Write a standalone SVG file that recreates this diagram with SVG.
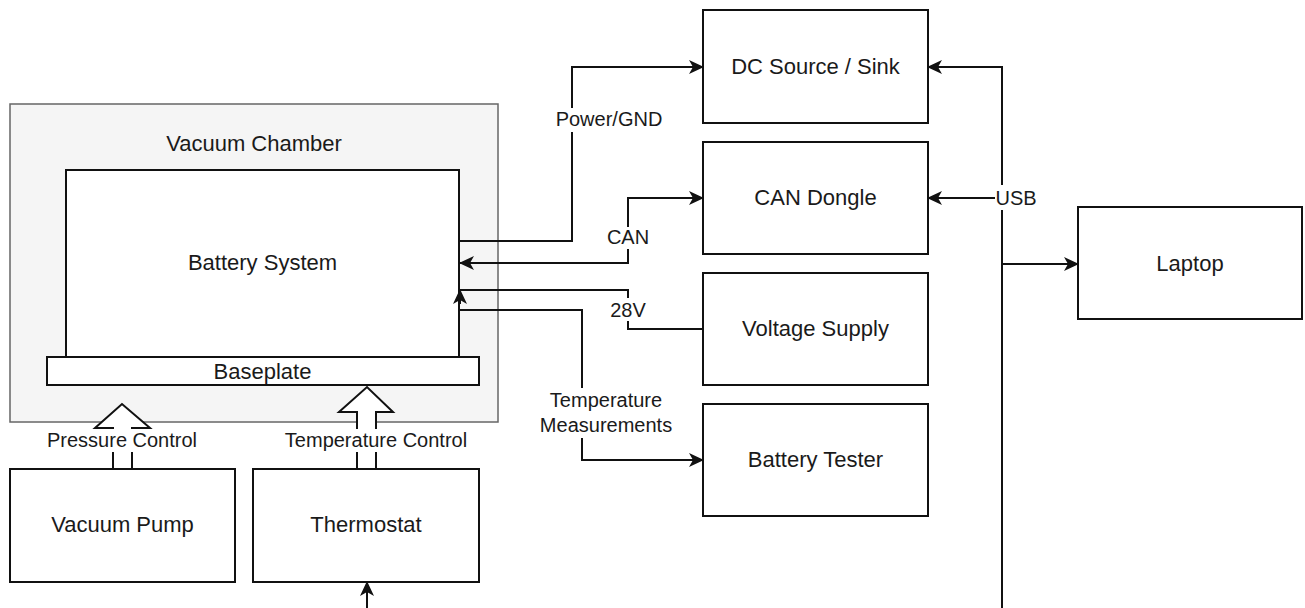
<svg xmlns="http://www.w3.org/2000/svg" width="1305" height="608" viewBox="0 0 1305 608">
<style>
.box{fill:#fff;stroke:#111;stroke-width:2}
.ch{fill:#f5f5f5;stroke:#666;stroke-width:1.5}
.t{font-family:"Liberation Sans",Arial,sans-serif;font-size:22px;fill:#1a1a1a;text-anchor:middle;dominant-baseline:central}
.l{font-family:"Liberation Sans",Arial,sans-serif;font-size:20px;fill:#1a1a1a;text-anchor:middle;dominant-baseline:central}
.e{fill:none;stroke:#111;stroke-width:2}
.bg{fill:#fff;stroke:none}
.blk{fill:#fff;stroke:#111;stroke-width:2;stroke-linejoin:miter}
</style>
<defs>
<marker id="arr" viewBox="0 0 15 14" refX="14" refY="7" markerWidth="15" markerHeight="14" markerUnits="userSpaceOnUse" orient="auto-start-reverse">
<path d="M0,0 L15,7 L0,14 L4,7 z" fill="#111"/>
</marker>
</defs>
<rect width="1305" height="608" fill="#fff"/>
<g id="vacuum-chamber">
<rect class="ch" x="10" y="104" width="488" height="318"/>
<text class="t" x="254" y="143">Vacuum Chamber</text>
</g>
<g id="battery-system">
<rect class="box" x="66" y="170" width="393" height="187"/>
<text class="t" x="262.5" y="262">Battery System</text>
</g>
<g id="baseplate">
<rect class="box" x="47" y="357" width="432" height="28"/>
<text class="t" x="262.5" y="371">Baseplate</text>
</g>
<g id="dc-source">
<rect class="box" x="703" y="10" width="225" height="113"/>
<text class="t" x="815.5" y="66">DC Source / Sink</text>
</g>
<g id="can-dongle">
<rect class="box" x="703" y="142" width="225" height="112"/>
<text class="t" x="815.5" y="197">CAN Dongle</text>
</g>
<g id="voltage-supply">
<rect class="box" x="703" y="273" width="225" height="112"/>
<text class="t" x="815.5" y="328">Voltage Supply</text>
</g>
<g id="battery-tester">
<rect class="box" x="703" y="404" width="225" height="112"/>
<text class="t" x="815.5" y="459">Battery Tester</text>
</g>
<g id="laptop">
<rect class="box" x="1078" y="207" width="224" height="112"/>
<text class="t" x="1190" y="263">Laptop</text>
</g>
<g id="vacuum-pump">
<rect class="box" x="10" y="469" width="225" height="113"/>
<text class="t" x="122.5" y="524">Vacuum Pump</text>
</g>
<g id="thermostat">
<rect class="box" x="253" y="469" width="226" height="113"/>
<text class="t" x="366" y="524">Thermostat</text>
</g>
<g id="connectors">
<path class="e" d="M460,241 H572 V67 H703" marker-end="url(#arr)"/>
<path class="e" d="M703,198 H628 V263 H460" marker-start="url(#arr)" marker-end="url(#arr)"/>
<path class="e" d="M703,329 H628 V290 H460"/>
<path class="e" d="M460,304 V290" marker-end="url(#arr)"/>
<path class="e" d="M460,310 H582 V460 H703" marker-end="url(#arr)"/>
<path class="e" d="M1002,608 V67 H928" marker-end="url(#arr)"/>
<path class="e" d="M1002,198 H928" marker-end="url(#arr)"/>
<path class="e" d="M1002,264 H1078" marker-end="url(#arr)"/>
<path class="e" d="M367,608 V582" marker-end="url(#arr)"/>
<polygon class="blk" points="113,469 113,428 95,428 122,404 150,428 132,428 132,469"/>
<polygon class="blk" points="357,469 357,412 339,412 367,387 393,412 376,412 376,469"/>
<rect class="bg" x="554" y="108" width="110" height="24"/>
<text class="l" x="609" y="119">Power/GND</text>
<rect class="bg" x="605" y="227" width="46" height="22"/>
<text class="l" x="628" y="237">CAN</text>
<rect class="bg" x="608" y="298" width="41" height="23"/>
<text class="l" x="628" y="310">28V</text>
<rect class="bg" x="537" y="388" width="138" height="50"/>
<text class="l" x="606" y="400">Temperature</text>
<text class="l" x="606" y="425">Measurements</text>
<rect class="bg" x="995" y="185" width="44" height="25"/>
<text class="l" x="1016" y="198">USB</text>
<rect class="bg" x="44" y="429" width="158" height="23"/>
<text class="l" x="122" y="440">Pressure Control</text>
<rect class="bg" x="281" y="429" width="190" height="23"/>
<text class="l" x="376" y="440">Temperature Control</text>
</g>
</svg>
